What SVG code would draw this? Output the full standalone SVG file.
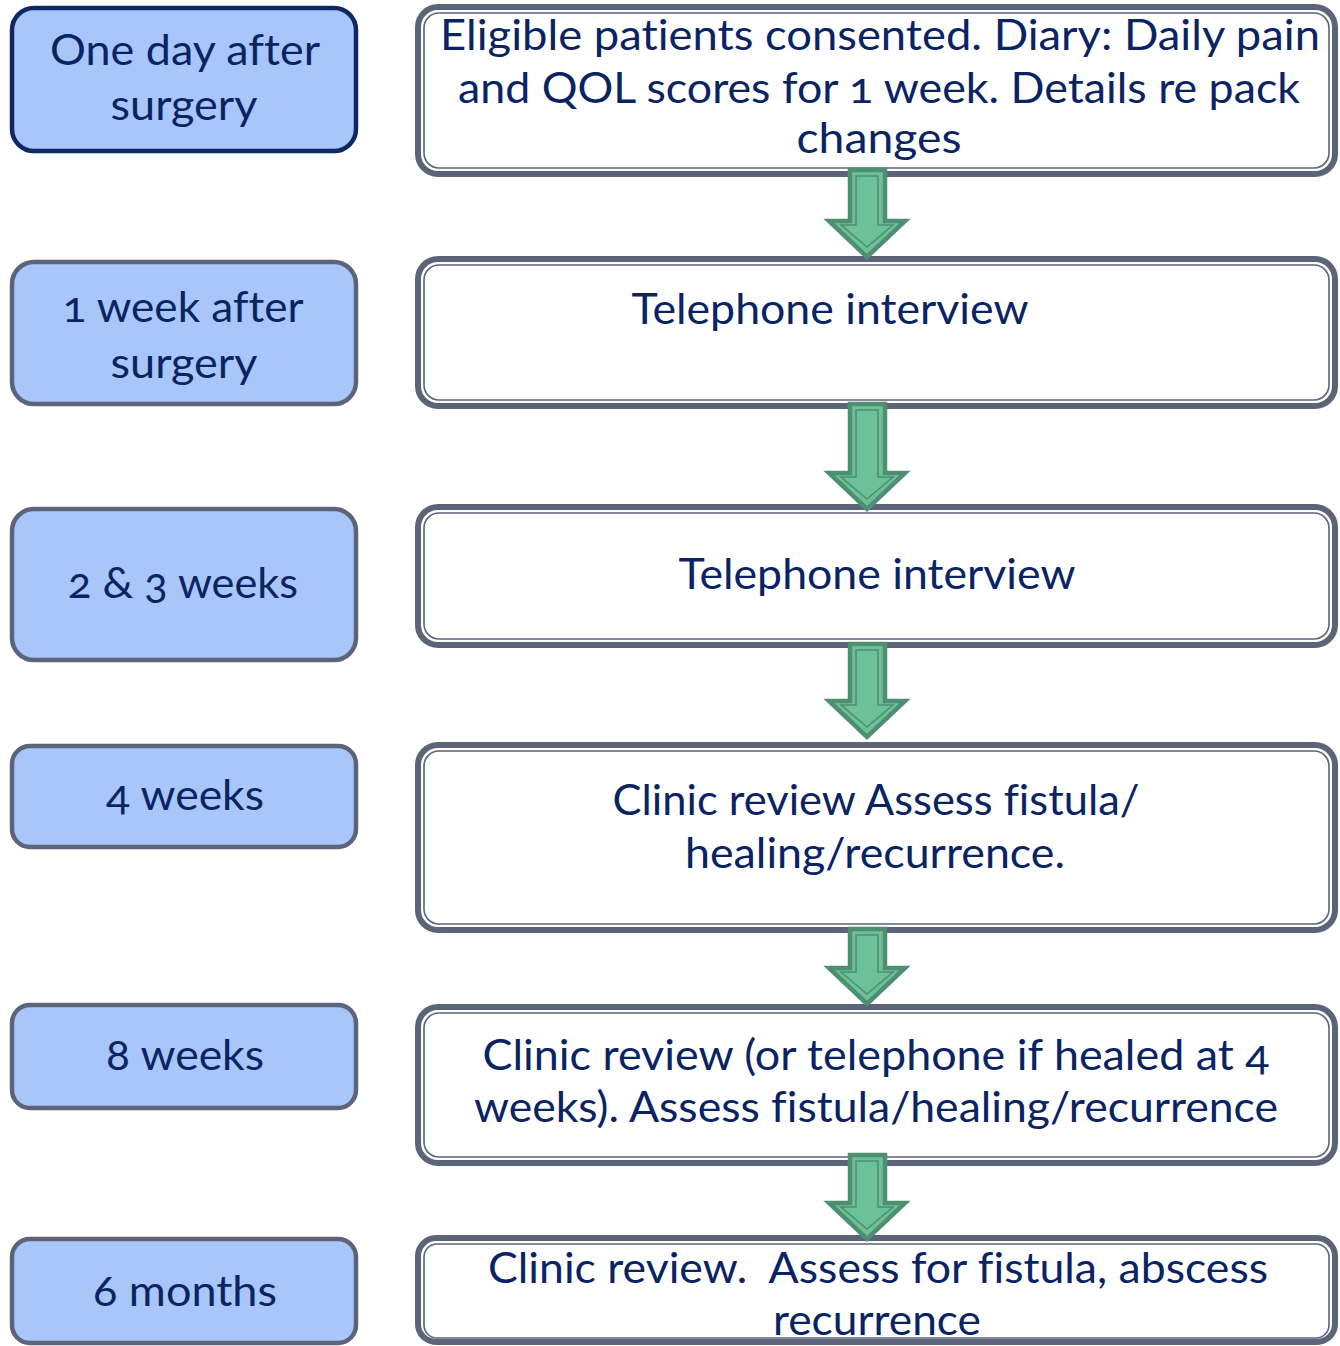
<svg xmlns="http://www.w3.org/2000/svg" width="1340" height="1346" viewBox="0 0 1340 1346">
<style>
.lbox{fill:#a8c6fa;stroke:#5c6479;stroke-width:4.5}
.lbox.first{stroke:#0d2864}
.rout{fill:#ffffff;stroke:#5c6479;stroke-width:6}
.rin{fill:none;stroke:#5c6479;stroke-width:1.6}
.t{font-family:Lato,"Open Sans","Liberation Sans",sans-serif;font-size:43px;fill:#0a2463;text-anchor:middle;font-feature-settings:"onum" 1,"liga" 0;font-variant-numeric:oldstyle-nums;font-variant-ligatures:none}
.aout{fill:#6cc199;stroke:#4e8f72;stroke-width:4.5;stroke-linejoin:miter}
.ain{fill:none;stroke:#4e8f72;stroke-width:1.6}
</style>
<rect width="1340" height="1346" fill="#ffffff"/>

<g id="left1"><rect class="lbox first" x="12" y="8" width="344" height="143" rx="22"/>
<text class="t" x="185" y="65" textLength="270" lengthAdjust="spacingAndGlyphs">One day after</text>
<text class="t" x="184" y="120" textLength="147" lengthAdjust="spacingAndGlyphs">surgery</text></g>

<g id="left2"><rect class="lbox" x="12" y="262" width="344" height="142" rx="22"/>
<text class="t" x="183" y="322" textLength="241" lengthAdjust="spacingAndGlyphs">1 week after</text>
<text class="t" x="184" y="378" textLength="147" lengthAdjust="spacingAndGlyphs">surgery</text></g>

<g id="left3"><rect class="lbox" x="12" y="509" width="344" height="151" rx="22"/>
<text class="t" x="183" y="598" textLength="230" lengthAdjust="spacingAndGlyphs">2 &amp; 3 weeks</text></g>

<g id="left4"><rect class="lbox" x="12" y="746" width="344" height="101" rx="18"/>
<text class="t" x="185" y="810" textLength="158" lengthAdjust="spacingAndGlyphs">4 weeks</text></g>

<g id="left5"><rect class="lbox" x="12" y="1005" width="344" height="103" rx="18"/>
<text class="t" x="185" y="1070" textLength="158" lengthAdjust="spacingAndGlyphs">8 weeks</text></g>

<g id="left6"><rect class="lbox" x="12" y="1239" width="344" height="104" rx="18"/>
<text class="t" x="185" y="1306" textLength="184" lengthAdjust="spacingAndGlyphs">6 months</text></g>

<g id="step1"><rect class="rout" x="418" y="7" width="917" height="167" rx="20"/>
<rect class="rin" x="424" y="13" width="905" height="155" rx="15"/>
<text class="t" x="880" y="50" textLength="880" lengthAdjust="spacingAndGlyphs">Eligible patients consented. Diary: Daily pain</text>
<text class="t" x="879" y="103" textLength="842" lengthAdjust="spacingAndGlyphs">and QOL scores for 1 week. Details re pack</text>
<text class="t" x="879" y="153" textLength="165" lengthAdjust="spacingAndGlyphs">changes</text></g>

<g id="step2"><rect class="rout" x="418" y="259" width="917" height="147" rx="20"/>
<rect class="rin" x="424" y="265" width="905" height="135" rx="15"/>
<text class="t" x="830" y="324" textLength="397" lengthAdjust="spacingAndGlyphs">Telephone interview</text></g>

<g id="step3"><rect class="rout" x="418" y="507" width="917" height="138" rx="20"/>
<rect class="rin" x="424" y="513" width="905" height="126" rx="15"/>
<text class="t" x="877" y="589" textLength="397" lengthAdjust="spacingAndGlyphs">Telephone interview</text></g>

<g id="step4"><rect class="rout" x="418" y="745" width="917" height="185" rx="20"/>
<rect class="rin" x="424" y="751" width="905" height="173" rx="15"/>
<text class="t" x="876" y="815" textLength="527" lengthAdjust="spacingAndGlyphs">Clinic review Assess fistula/</text>
<text class="t" x="875" y="868" textLength="380" lengthAdjust="spacingAndGlyphs">healing/recurrence.</text></g>

<g id="step5"><rect class="rout" x="418" y="1007" width="917" height="156" rx="20"/>
<rect class="rin" x="424" y="1013" width="905" height="144" rx="15"/>
<text class="t" x="876" y="1070" textLength="787" lengthAdjust="spacingAndGlyphs">Clinic review (or telephone if healed at 4</text>
<text class="t" x="876" y="1122" textLength="804" lengthAdjust="spacingAndGlyphs">weeks). Assess fistula/healing/recurrence</text></g>

<g id="step6"><rect class="rout" x="418" y="1238" width="917" height="104" rx="18"/>
<rect class="rin" x="424" y="1244" width="905" height="94" rx="13"/>
<text class="t" x="878" y="1283" textLength="780" lengthAdjust="spacingAndGlyphs" xml:space="preserve">Clinic review.  Assess for fistula, abscess</text>
<text class="t" x="877" y="1335" textLength="208" lengthAdjust="spacingAndGlyphs">recurrence</text></g>

<g id="connectors">
<polygon class="aout" points="850,170 885,170 885,221 905,221 867,257 829,221 850,221"/>
<polygon class="ain" points="856,176 878,176 878,225 893,225 867,247 841,225 856,225"/>

<polygon class="aout" points="850,404 885,404 885,473 905,473 867,509 829,473 850,473"/>
<polygon class="ain" points="856,410 878,410 878,477 893,477 867,499 841,477 856,477"/>

<polygon class="aout" points="850,644 885,644 885,701 905,701 867,737 829,701 850,701"/>
<polygon class="ain" points="856,650 878,650 878,705 893,705 867,727 841,705 856,705"/>

<polygon class="aout" points="850,929 885,929 885,968 905,968 867,1004 829,968 850,968"/>
<polygon class="ain" points="856,935 878,935 878,972 893,972 867,994 841,972 856,972"/>

<polygon class="aout" points="850,1155 885,1155 885,1203 905,1203 867,1239 829,1203 850,1203"/>
<polygon class="ain" points="856,1161 878,1161 878,1207 893,1207 867,1229 841,1207 856,1207"/>
</g>
</svg>
